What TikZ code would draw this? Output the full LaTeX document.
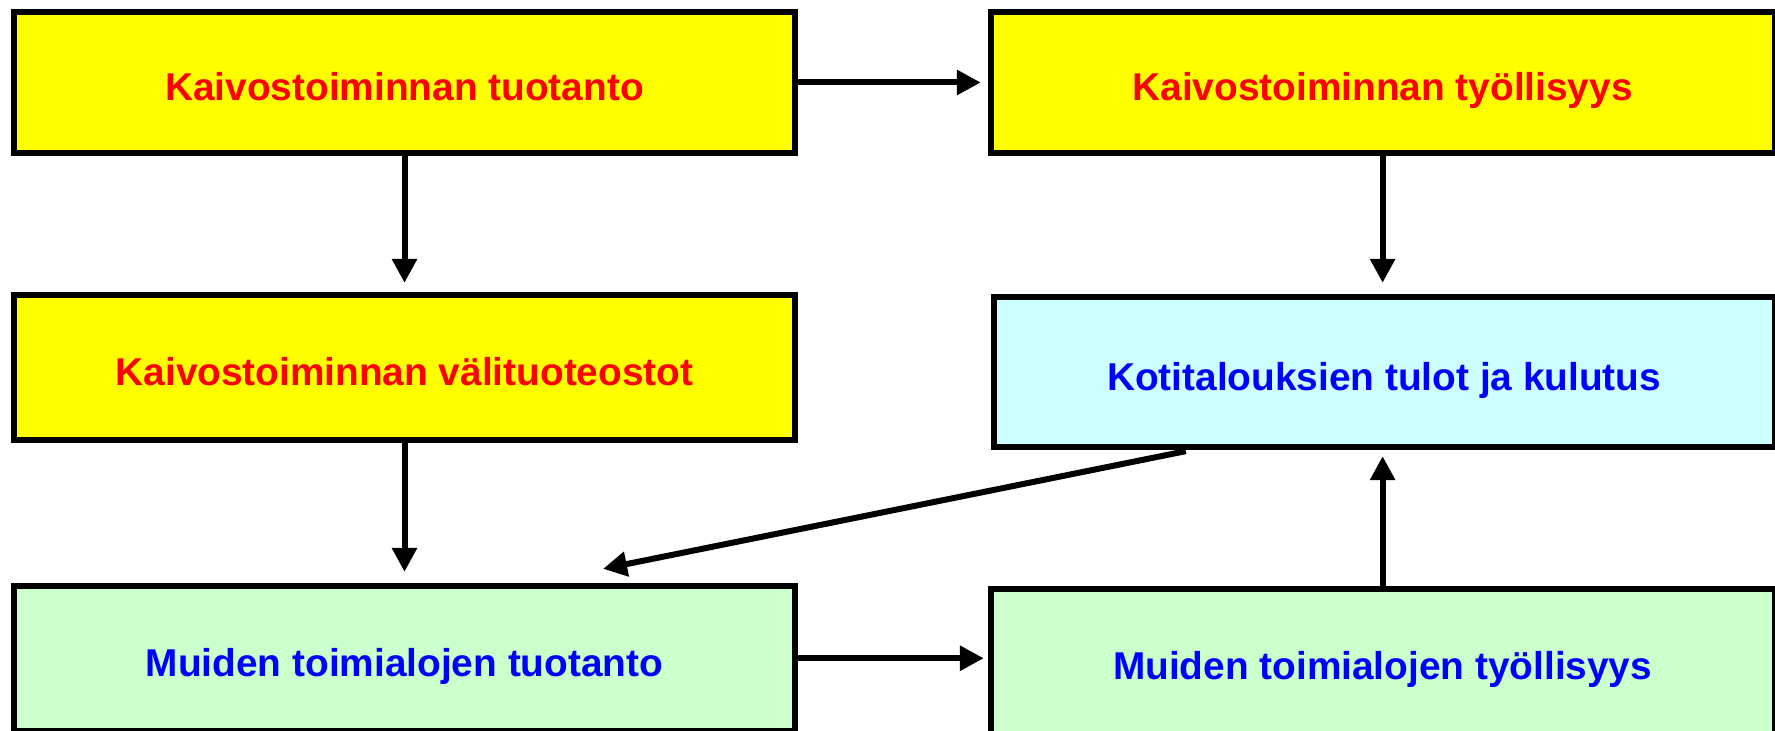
\documentclass[tikz,border=0pt]{standalone}
\usepackage{fontspec}
\setmainfont{Liberation Sans}
\usetikzlibrary{arrows.meta,calc}
\definecolor{boxyellow}{HTML}{FFFF00}
\definecolor{boxcyan}{HTML}{CCFFFF}
\definecolor{boxgreen}{HTML}{CCFFCC}
\definecolor{txtred}{HTML}{FF0000}
\definecolor{txtblue}{HTML}{0000FF}
\begin{document}
\begin{tikzpicture}[x=0.5pt,y=-0.5pt,
  box/.style={draw=black,line width=2.9pt,inner sep=0pt,
    font=\bfseries\fontsize{19.4pt}{23pt}\selectfont,
    text height=23pt,text depth=4.5pt},
  ybox/.style={box,fill=boxyellow,text=txtred},
  cbox/.style={box,fill=boxcyan,text=txtblue},
  gbox/.style={box,fill=boxgreen,text=txtblue},
  conn/.style={line width=3pt,-{Triangle[length=12pt,width=12pt]}}]
\useasboundingbox (0,0) rectangle (1775,731);
\node[ybox,minimum width=390.75pt,minimum height=70.75pt] (A) at (404.5,82.5) {Kaivostoiminnan tuotanto};
\node[ybox,minimum width=391.9pt,minimum height=70.75pt] (B) at (1382.6,82.5) {Kaivostoiminnan työllisyys};
\node[ybox,minimum width=390.75pt,minimum height=72.75pt] (C) at (404.5,367.5) {Kaivostoiminnan välituoteostot};
\node[cbox,minimum width=390.4pt,minimum height=75.25pt] (D) at (1384.1,372) {Kotitalouksien tulot ja kulutus};
\node[gbox,minimum width=390.75pt,minimum height=72.5pt] (E) at (404.5,658.25) {Muiden toimialojen tuotanto};
\node[gbox,minimum width=391.9pt,minimum height=72.5pt] (F) at (1382.6,661.25) {Muiden toimialojen työllisyys};
\draw[conn,shorten >=3.5pt] (A.east) -- (B.west);
\draw[conn,shorten >=4.5pt] (A.south) -- (A.south |- C.north);
\draw[conn,shorten >=5.5pt] (B.south) -- (B.south |- D.north);
\draw[conn,shorten >=5.5pt] (C.south) -- (C.south |- E.north);
\draw[conn,shorten >=2pt] (E.east) -- (E.east -| F.west);
\draw[conn,shorten >=3pt] (F.north) -- (F.north |- D.south);
\coordinate (ds) at ($(D.south west)+(195,1)$);
\coordinate (de) at ($(E.north)+(198.5,-14)$);
\draw[conn] (ds) -- (de);
\end{tikzpicture}
\end{document}
